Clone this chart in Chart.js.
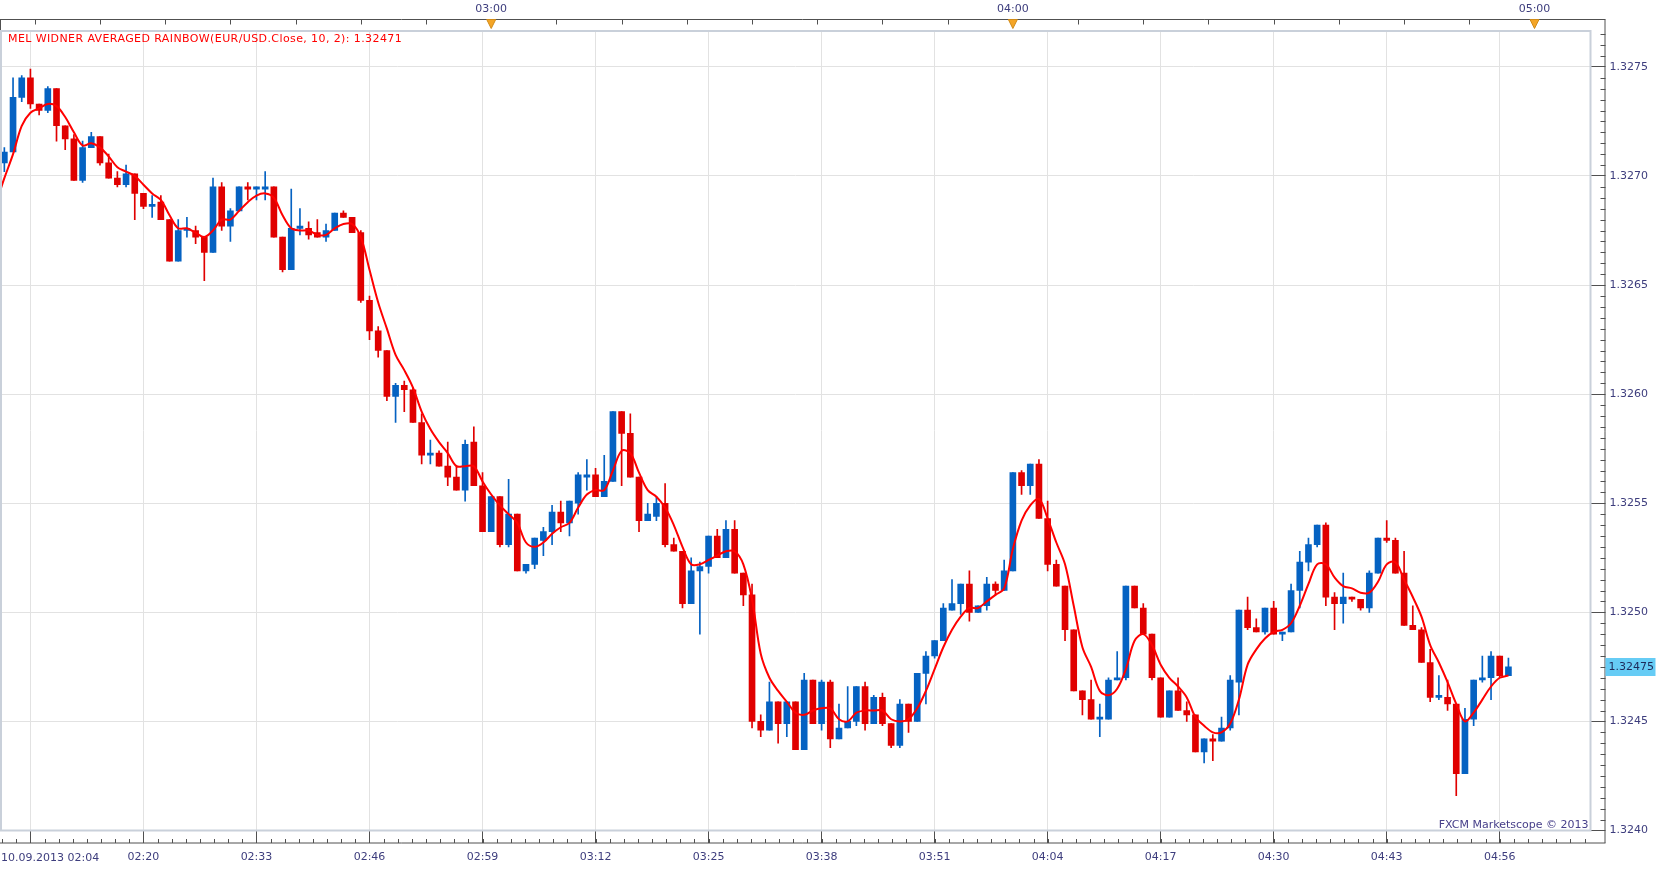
<!DOCTYPE html>
<html>
<head>
<meta charset="utf-8">
<title>EUR/USD 1 min</title>
<script src="https://cdn.jsdelivr.net/npm/chart.js@4.4.1/dist/chart.umd.min.js"></script>
<style>
    html, body { margin: 0; padding: 0; background: #fff; }
    #wrap { position: relative; width: 1663px; height: 870px; }
</style>
</head>
<body>
<div id="wrap"><canvas id="myChart" width="1663" height="870"></canvas></div>
<script>
// one bar per minute, first bar 02:04
const opens = [
    1.32706, 1.32711, 1.32736, 1.32745, 1.32733, 1.32730, 1.32740, 1.32723, 1.32717, 1.32698,
    1.32713, 1.32718, 1.32706, 1.32699, 1.32696, 1.32701, 1.32692, 1.32686, 1.32688, 1.32680,
    1.32661, 1.32675, 1.32675, 1.32672, 1.32665, 1.32695, 1.32677, 1.32684, 1.32695, 1.32694,
    1.32694, 1.32695, 1.32672, 1.32657, 1.32676, 1.32676, 1.32674, 1.32672, 1.32675, 1.32683,
    1.32681, 1.32674, 1.32643, 1.32629, 1.32620, 1.32599, 1.32604, 1.32602, 1.32587, 1.32572,
    1.32573, 1.32567, 1.32562, 1.32556, 1.32578, 1.32558, 1.32537, 1.32553, 1.32531, 1.32545,
    1.32519, 1.32522, 1.32533, 1.32537, 1.32546, 1.32541, 1.32550, 1.32562, 1.32563, 1.32553,
    1.32560, 1.32592, 1.32582, 1.32562, 1.32542, 1.32544, 1.32550, 1.32531, 1.32528, 1.32504,
    1.32519, 1.32521, 1.32535, 1.32525, 1.32538, 1.32518, 1.32508, 1.32450, 1.32446, 1.32459,
    1.32449, 1.32459, 1.32437, 1.32469, 1.32449, 1.32468, 1.32442, 1.32447, 1.32450, 1.32466,
    1.32449, 1.32461, 1.32449, 1.32439, 1.32458, 1.32450, 1.32472, 1.32480, 1.32487, 1.32501,
    1.32504, 1.32513, 1.32500, 1.32503, 1.32513, 1.32510, 1.32519, 1.32564, 1.32558, 1.32568,
    1.32543, 1.32522, 1.32512, 1.32492, 1.32464, 1.32460, 1.32451, 1.32451, 1.32469, 1.32470,
    1.32512, 1.32502, 1.32490, 1.32470, 1.32452, 1.32464, 1.32455, 1.32453, 1.32436, 1.32442,
    1.32441, 1.32447, 1.32468, 1.32501, 1.32493, 1.32491, 1.32502, 1.32490, 1.32491, 1.32510,
    1.32523, 1.32531, 1.32540, 1.32507, 1.32504, 1.32507, 1.32506, 1.32502, 1.32518, 1.32534,
    1.32533, 1.32518, 1.32494, 1.32492, 1.32477, 1.32461, 1.32461, 1.32458, 1.32426, 1.32451,
    1.32469, 1.32470, 1.32480, 1.32471
];
const highs = [
    1.32713, 1.32745, 1.32746, 1.32749, 1.32733, 1.32741, 1.32740, 1.32723, 1.32719, 1.32716,
    1.32720, 1.32718, 1.32710, 1.32702, 1.32705, 1.32701, 1.32692, 1.32691, 1.32691, 1.32680,
    1.32680, 1.32681, 1.32677, 1.32672, 1.32699, 1.32697, 1.32685, 1.32695, 1.32697, 1.32695,
    1.32702, 1.32695, 1.32672, 1.32694, 1.32685, 1.32679, 1.32680, 1.32678, 1.32683, 1.32684,
    1.32681, 1.32675, 1.32645, 1.32631, 1.32620, 1.32605, 1.32606, 1.32603, 1.32591, 1.32579,
    1.32574, 1.32578, 1.32567, 1.32579, 1.32585, 1.32564, 1.32553, 1.32553, 1.32561, 1.32545,
    1.32522, 1.32534, 1.32539, 1.32549, 1.32551, 1.32551, 1.32564, 1.32570, 1.32566, 1.32572,
    1.32592, 1.32592, 1.32591, 1.32562, 1.32550, 1.32553, 1.32559, 1.32534, 1.32528, 1.32525,
    1.32523, 1.32535, 1.32538, 1.32542, 1.32542, 1.32518, 1.32513, 1.32453, 1.32468, 1.32459,
    1.32459, 1.32459, 1.32472, 1.32469, 1.32469, 1.32469, 1.32458, 1.32466, 1.32466, 1.32468,
    1.32462, 1.32463, 1.32449, 1.32460, 1.32458, 1.32472, 1.32482, 1.32487, 1.32504, 1.32515,
    1.32513, 1.32519, 1.32503, 1.32516, 1.32514, 1.32524, 1.32564, 1.32565, 1.32568, 1.32570,
    1.32551, 1.32524, 1.32512, 1.32492, 1.32464, 1.32469, 1.32458, 1.32470, 1.32482, 1.32512,
    1.32512, 1.32504, 1.32490, 1.32470, 1.32464, 1.32470, 1.32459, 1.32453, 1.32442, 1.32444,
    1.32452, 1.32471, 1.32501, 1.32507, 1.32497, 1.32502, 1.32505, 1.32491, 1.32513, 1.32528,
    1.32534, 1.32540, 1.32541, 1.32509, 1.32518, 1.32507, 1.32506, 1.32519, 1.32534, 1.32542,
    1.32534, 1.32528, 1.32503, 1.32493, 1.32483, 1.32471, 1.32469, 1.32458, 1.32456, 1.32469,
    1.32480, 1.32482, 1.32480, 1.32479
];
const lows = [
    1.32702, 1.32711, 1.32734, 1.32731, 1.32728, 1.32729, 1.32716, 1.32712, 1.32698, 1.32697,
    1.32713, 1.32705, 1.32699, 1.32695, 1.32695, 1.32680, 1.32685, 1.32681, 1.32680, 1.32661,
    1.32661, 1.32672, 1.32669, 1.32652, 1.32665, 1.32675, 1.32670, 1.32684, 1.32689, 1.32689,
    1.32689, 1.32672, 1.32656, 1.32657, 1.32673, 1.32671, 1.32672, 1.32670, 1.32675, 1.32681,
    1.32674, 1.32642, 1.32625, 1.32617, 1.32597, 1.32587, 1.32592, 1.32587, 1.32568, 1.32568,
    1.32567, 1.32558, 1.32556, 1.32551, 1.32558, 1.32537, 1.32537, 1.32530, 1.32530, 1.32519,
    1.32518, 1.32520, 1.32526, 1.32531, 1.32537, 1.32535, 1.32545, 1.32556, 1.32553, 1.32553,
    1.32560, 1.32558, 1.32562, 1.32537, 1.32542, 1.32542, 1.32530, 1.32528, 1.32502, 1.32504,
    1.32490, 1.32518, 1.32525, 1.32525, 1.32518, 1.32503, 1.32447, 1.32443, 1.32446, 1.32440,
    1.32443, 1.32437, 1.32437, 1.32449, 1.32446, 1.32438, 1.32442, 1.32447, 1.32448, 1.32446,
    1.32449, 1.32448, 1.32438, 1.32438, 1.32445, 1.32450, 1.32458, 1.32479, 1.32487, 1.32501,
    1.32499, 1.32496, 1.32500, 1.32501, 1.32508, 1.32510, 1.32519, 1.32554, 1.32554, 1.32543,
    1.32519, 1.32512, 1.32487, 1.32464, 1.32453, 1.32451, 1.32443, 1.32451, 1.32469, 1.32469,
    1.32502, 1.32490, 1.32469, 1.32452, 1.32452, 1.32455, 1.32450, 1.32436, 1.32431, 1.32432,
    1.32441, 1.32446, 1.32453, 1.32492, 1.32491, 1.32490, 1.32490, 1.32487, 1.32491, 1.32502,
    1.32519, 1.32530, 1.32503, 1.32492, 1.32495, 1.32505, 1.32501, 1.32500, 1.32518, 1.32532,
    1.32518, 1.32494, 1.32492, 1.32477, 1.32459, 1.32460, 1.32455, 1.32416, 1.32426, 1.32448,
    1.32468, 1.32460, 1.32470, 1.32471
];
const closes = [
    1.32711, 1.32736, 1.32745, 1.32733, 1.32730, 1.32740, 1.32723, 1.32717, 1.32698, 1.32713,
    1.32718, 1.32706, 1.32699, 1.32696, 1.32701, 1.32692, 1.32686, 1.32687, 1.32680, 1.32661,
    1.32675, 1.32676, 1.32672, 1.32665, 1.32695, 1.32677, 1.32684, 1.32695, 1.32694, 1.32695,
    1.32695, 1.32672, 1.32657, 1.32676, 1.32677, 1.32673, 1.32672, 1.32675, 1.32683, 1.32681,
    1.32674, 1.32643, 1.32629, 1.32620, 1.32599, 1.32604, 1.32602, 1.32587, 1.32572, 1.32573,
    1.32567, 1.32562, 1.32556, 1.32577, 1.32558, 1.32537, 1.32553, 1.32531, 1.32545, 1.32519,
    1.32522, 1.32534, 1.32537, 1.32546, 1.32541, 1.32551, 1.32563, 1.32563, 1.32553, 1.32560,
    1.32592, 1.32582, 1.32562, 1.32542, 1.32545, 1.32550, 1.32531, 1.32528, 1.32504, 1.32519,
    1.32521, 1.32535, 1.32525, 1.32538, 1.32518, 1.32508, 1.32450, 1.32446, 1.32459, 1.32449,
    1.32459, 1.32437, 1.32469, 1.32449, 1.32468, 1.32442, 1.32447, 1.32450, 1.32466, 1.32449,
    1.32461, 1.32449, 1.32439, 1.32458, 1.32450, 1.32472, 1.32480, 1.32487, 1.32502, 1.32504,
    1.32513, 1.32500, 1.32503, 1.32513, 1.32510, 1.32519, 1.32564, 1.32558, 1.32568, 1.32543,
    1.32522, 1.32512, 1.32492, 1.32464, 1.32460, 1.32451, 1.32452, 1.32469, 1.32470, 1.32512,
    1.32502, 1.32490, 1.32470, 1.32452, 1.32464, 1.32455, 1.32453, 1.32436, 1.32442, 1.32441,
    1.32447, 1.32469, 1.32501, 1.32493, 1.32491, 1.32502, 1.32490, 1.32491, 1.32510, 1.32523,
    1.32531, 1.32540, 1.32507, 1.32504, 1.32507, 1.32506, 1.32502, 1.32518, 1.32534, 1.32533,
    1.32518, 1.32494, 1.32492, 1.32477, 1.32461, 1.32462, 1.32458, 1.32426, 1.32451, 1.32469,
    1.32470, 1.32480, 1.32471, 1.32475
];
// Mel Widner averaged rainbow
const rainbowStart = 1.32693;
const rainbow = [
    1.32699, 1.32710, 1.32723, 1.32729, 1.32731, 1.32733, 1.32732, 1.32727, 1.32720, 1.32714,
    1.32715, 1.32713, 1.32709, 1.32704, 1.32702, 1.32700, 1.32696, 1.32692, 1.32689, 1.32682,
    1.32676, 1.32676, 1.32674, 1.32672, 1.32675, 1.32680, 1.32680, 1.32684, 1.32688, 1.32691,
    1.32692, 1.32690, 1.32682, 1.32676, 1.32675, 1.32675, 1.32673, 1.32673, 1.32676, 1.32678,
    1.32678, 1.32672, 1.32657, 1.32642, 1.32630, 1.32618, 1.32611, 1.32603, 1.32592, 1.32584,
    1.32578, 1.32573, 1.32567, 1.32567, 1.32567, 1.32560, 1.32554, 1.32549, 1.32545, 1.32541,
    1.32532, 1.32530, 1.32532, 1.32536, 1.32539, 1.32541, 1.32548, 1.32554, 1.32556, 1.32556,
    1.32565, 1.32574, 1.32573, 1.32564, 1.32556, 1.32553, 1.32548, 1.32540, 1.32530, 1.32522,
    1.32522, 1.32524, 1.32526, 1.32528, 1.32528, 1.32522, 1.32506, 1.32481, 1.32470, 1.32464,
    1.32459, 1.32454, 1.32453, 1.32455, 1.32456, 1.32456, 1.32451, 1.32450, 1.32454, 1.32455,
    1.32455, 1.32455, 1.32451, 1.32450, 1.32451, 1.32456, 1.32464, 1.32474, 1.32484, 1.32492,
    1.32498, 1.32502, 1.32502, 1.32505, 1.32508, 1.32511, 1.32529, 1.32542, 1.32549, 1.32552,
    1.32543, 1.32532, 1.32522, 1.32503, 1.32484, 1.32475, 1.32464, 1.32462, 1.32465, 1.32474,
    1.32487, 1.32490, 1.32485, 1.32476, 1.32470, 1.32466, 1.32461, 1.32452, 1.32448, 1.32445,
    1.32445, 1.32449, 1.32460, 1.32476, 1.32483, 1.32488, 1.32491, 1.32492, 1.32495, 1.32503,
    1.32513, 1.32522, 1.32522, 1.32516, 1.32512, 1.32511, 1.32509, 1.32509, 1.32514, 1.32522,
    1.32523, 1.32515, 1.32507, 1.32498, 1.32485, 1.32477, 1.32468, 1.32458, 1.32450, 1.32454,
    1.32460, 1.32466, 1.32470, 1.32471
];

const priceTicks = [1.3240, 1.3245, 1.3250, 1.3255, 1.3260, 1.3265, 1.3270, 1.3275];
const timeTickBars = [3, 16, 29, 42, 55, 68, 81, 94, 107, 120, 133, 146, 159, 172];
const timeTickLabels = ['10.09.2013 02:04', '02:20', '02:33', '02:46', '02:59', '03:12', '03:25',
    '03:38', '03:51', '04:04', '04:17', '04:30', '04:43', '04:56'];
const hourBars = [56, 116, 176];
const hourLabels = ['03:00', '04:00', '05:00'];
const indicatorName = 'MEL WIDNER AVERAGED RAINBOW(EUR/USD.Close, 10, 2)';
const footerText = 'FXCM Marketscope \u00a9 2013';

function createChart() {
    const UP = '#0562c2';
    const DOWN = '#e00000';
    const AXIS = '#505050';
    const LABEL = '#3d3d7d';
    const FONT = 'DejaVu Sans, Verdana, sans-serif';

    const colors = closes.map((c, i) => (c >= opens[i] ? UP : DOWN));
    const bodies = opens.map((o, i) => ({ x: i, y: [o, closes[i]] }));
    const wicks = lows.map((l, i) => ({ x: i, y: [l, highs[i]] }));
    const line = [{ x: -0.5, y: rainbowStart }].concat(rainbow.map((v, i) => ({ x: i, y: v })));

    Chart.defaults.font.family = FONT;
    Chart.defaults.font.size = 11;

    // frame, extra axis lines, top time axis, labels drawn on the canvas
    const decorations = {
        id: 'decorations',
        afterDraw(chart) {
            const { ctx, chartArea: area, scales: { x, y } } = chart;
            const axisRight = area.right + 15;
            const axisBottom = area.bottom + 12.5;
            const axisTop = 19.5;
            ctx.save();

            // plot frame
            ctx.strokeStyle = '#c9d0da';
            ctx.lineWidth = 2;
            ctx.strokeRect(area.left + 1, area.top + 1, area.right - area.left - 1, area.bottom - area.top - 1);

            // axis lines
            ctx.strokeStyle = AXIS;
            ctx.lineWidth = 1;
            ctx.beginPath();
            ctx.moveTo(0, axisTop);
            ctx.lineTo(axisRight, axisTop);
            ctx.moveTo(axisRight - 0.5, axisTop);
            ctx.lineTo(axisRight - 0.5, axisBottom);
            ctx.moveTo(0, axisBottom);
            ctx.lineTo(axisRight, axisBottom);
            ctx.moveTo(0.5, axisTop);
            ctx.lineTo(0.5, area.top);

            // minor price ticks
            for (let k = 0; ; k++) {
                const v = priceTicks[0] + k * 0.00005;
                if (v > y.max) break;
                if (k % 10 === 0) continue;
                const py = Math.round(y.getPixelForValue(v)) + 0.5;
                ctx.moveTo(axisRight - 5, py);
                ctx.lineTo(axisRight, py);
            }

            // minor time ticks, eight per labelled step
            const minorStep = (timeTickBars[1] - timeTickBars[0]) / 8;
            for (let t = timeTickBars[0] - minorStep; t > x.min; t -= minorStep) {
                const px = Math.round(x.getPixelForValue(t)) + 0.5;
                ctx.moveTo(px, axisBottom - 4);
                ctx.lineTo(px, axisBottom);
            }
            for (let t = timeTickBars[0] + minorStep; t < x.max; t += minorStep) {
                const px = Math.round(x.getPixelForValue(t)) + 0.5;
                ctx.moveTo(px, axisBottom - 4);
                ctx.lineTo(px, axisBottom);
            }

            // top axis ticks every 7.5 minutes
            const topStep = (hourBars[1] - hourBars[0]) / 8;
            for (let t = hourBars[0] - topStep * 7; t < x.max; t += topStep) {
                const px = Math.round(x.getPixelForValue(t)) + 0.5;
                ctx.moveTo(px, axisTop);
                ctx.lineTo(px, axisTop + 5);
            }
            ctx.stroke();

            // hour markers and labels
            ctx.font = '11px ' + FONT;
            ctx.fillStyle = LABEL;
            ctx.textAlign = 'center';
            ctx.textBaseline = 'middle';
            hourBars.forEach((bar, i) => {
                const px = x.getPixelForValue(bar);
                ctx.fillStyle = LABEL;
                ctx.fillText(hourLabels[i], px, 9);
                ctx.beginPath();
                ctx.moveTo(px - 4.5, axisTop);
                ctx.lineTo(px + 4.5, axisTop);
                ctx.lineTo(px, axisTop + 9);
                ctx.closePath();
                ctx.fillStyle = '#f4a526';
                ctx.fill();
                ctx.strokeStyle = '#d08a18';
                ctx.stroke();
            });

            // first time label carries the date
            ctx.fillStyle = LABEL;
            ctx.textAlign = 'left';
            ctx.fillText(timeTickLabels[0], 1, 858);

            // indicator title, a little wider set than the axis text
            ctx.fillStyle = '#ff0000';
            ctx.letterSpacing = '0.4px';
            ctx.fillText(indicatorName + ': ' + rainbow[rainbow.length - 1].toFixed(5), 8, 39);
            ctx.letterSpacing = '0px';

            // footer
            ctx.fillStyle = '#47408a';
            ctx.textAlign = 'right';
            ctx.fillText(footerText, area.right - 2, 825);

            // last price marker
            const last = closes[closes.length - 1];
            const ly = Math.round(y.getPixelForValue(last));
            ctx.fillStyle = '#66ccf5';
            ctx.fillRect(axisRight, ly - 9, 50, 18);
            ctx.fillStyle = '#1e2a5a';
            ctx.textAlign = 'left';
            ctx.fillText(last.toFixed(5), axisRight + 3, ly + 0.5);

            ctx.restore();
        },
    };

    const ctx = document.getElementById('myChart').getContext('2d');
    new Chart(ctx, {
        type: 'bar',
        data: {
            datasets: [
                {
                    type: 'line',
                    data: line,
                    borderColor: '#ff0000',
                    borderWidth: 2,
                    pointRadius: 0,
                    tension: 0.35,
                    order: 0,
                },
                {
                    data: bodies,
                    backgroundColor: colors,
                    barThickness: 6,
                    minBarLength: 1,
                    grouped: false,
                    order: 1,
                },
                {
                    data: wicks,
                    backgroundColor: colors,
                    barThickness: 1,
                    grouped: false,
                    order: 2,
                },
            ],
        },
        options: {
            responsive: false,
            animation: false,
            devicePixelRatio: 1,
            layout: {
                padding: { left: 0, right: 0, top: 30, bottom: 0 },
            },
            plugins: {
                legend: { display: false },
                tooltip: { enabled: false },
            },
            scales: {
                x: {
                    type: 'linear',
                    min: -0.5,
                    max: 182.44,
                    offset: false,
                    bounds: 'data',
                    afterBuildTicks: scale => {
                        scale.ticks = timeTickBars.map(v => ({ value: v }));
                    },
                    afterFit: scale => {
                        scale.height = 39.5;
                    },
                    grid: {
                        offset: false,
                        color: '#e2e2e2',
                        tickLength: 12.5,
                        tickColor: AXIS,
                    },
                    border: { display: false },
                    ticks: {
                        autoSkip: false,
                        maxRotation: 0,
                        minRotation: 0,
                        padding: 8,
                        color: LABEL,
                        callback: (value, index) => (index === 0 ? '' : timeTickLabels[index]),
                    },
                },
                y: {
                    position: 'right',
                    min: 1.3240,
                    max: 1.327669,
                    bounds: 'data',
                    afterBuildTicks: scale => {
                        scale.ticks = priceTicks.map(v => ({ value: v }));
                    },
                    afterFit: scale => {
                        scale.width = 72.5;
                    },
                    grid: {
                        color: '#e2e2e2',
                        tickLength: 15,
                        tickColor: AXIS,
                    },
                    border: { display: false },
                    ticks: {
                        padding: 4,
                        color: LABEL,
                        callback: value => value.toFixed(4),
                    },
                },
            },
        },
        plugins: [decorations],
    });
}

createChart();
</script>
</body>
</html>
